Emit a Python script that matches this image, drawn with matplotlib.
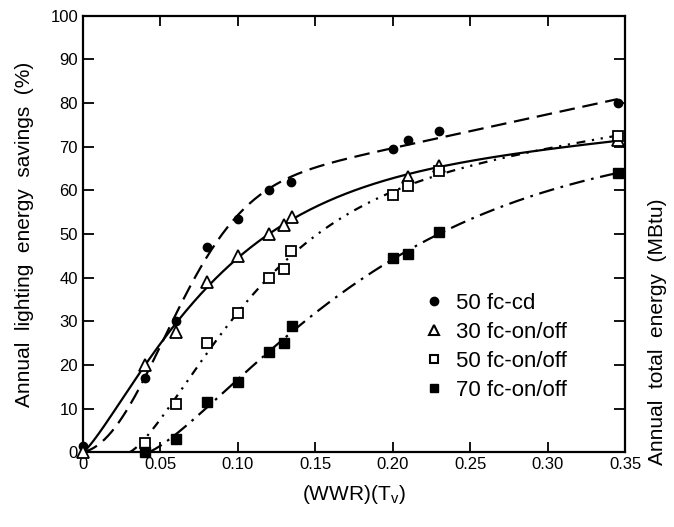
import numpy as np
import matplotlib.pyplot as plt
from matplotlib.lines import Line2D

plt.rcParams['font.family'] = ['Liberation Sans', 'DejaVu Sans']

# data: (WWR)(Tv) vs annual lighting energy savings (%)
x_cd = [0, 0.04, 0.06, 0.08, 0.10, 0.12, 0.134, 0.20, 0.21, 0.23, 0.345]
y_cd = [1.5, 17, 30, 47, 53.5, 60, 62, 69.5, 71.5, 73.5, 80]

x_30 = [0, 0.04, 0.06, 0.08, 0.10, 0.12, 0.13, 0.135, 0.21, 0.23, 0.345]
y_30 = [0, 20, 27.5, 39, 45, 50, 52, 54, 63, 65.5, 71.5]

x_50 = [0.04, 0.06, 0.08, 0.10, 0.12, 0.13, 0.134, 0.20, 0.21, 0.23, 0.345]
y_50 = [2, 11, 25, 32, 40, 42, 46, 59, 61, 64.5, 72.5]

x_70 = [0.04, 0.06, 0.08, 0.10, 0.12, 0.13, 0.135, 0.20, 0.21, 0.23, 0.345]
y_70 = [0, 3, 11.5, 16, 23, 25, 29, 44.5, 45.5, 50.5, 64]

labels = ['50 fc-cd', '30 fc-on/off', '50 fc-on/off', '70 fc-on/off']
xticks = [0, 0.05, 0.10, 0.15, 0.20, 0.25, 0.30, 0.35]
xticklabels = ['0', '0.05', '0.10', '0.15', '0.20', '0.25', '0.30', '0.35']
yticks = list(range(0, 101, 10))


def fit_curve(x, y, x0s, p_max=3.0):
    # least-squares smooth curve: y = A*(1-exp(-((x-x0)/s)^p)) + c*(x-x0)
    x = np.asarray(x, float)
    y = np.asarray(y, float)
    best = None
    for x0 in x0s:
        d = np.clip(x - x0, 0, None)
        for p in np.linspace(0.8, p_max, 45):
            for s in np.linspace(0.02, 0.3, 71):
                B = np.column_stack([1 - np.exp(-(d / s) ** p), d])
                coef, *_ = np.linalg.lstsq(B, y, rcond=None)
                if coef[1] < 0:
                    continue
                err = ((B @ coef - y) ** 2).sum()
                if best is None or err < best[0]:
                    best = (err, x0, p, s, coef)
    _, x0, p, s, coef = best
    xs = np.linspace(x0, max(x), 300)
    d = xs - x0
    ys = coef[0] * (1 - np.exp(-(d / s) ** p)) + coef[1] * d
    return xs, ys


fig = plt.figure(figsize=(6.74, 5.27), dpi=100)
ax = fig.add_axes([0.123, 0.142, 0.805, 0.828])

series = [
    (x_cd, y_cd, dict(marker='o', mfc='black', mec='black', ms=6), (0, (7, 3.5)), [0.0], 3.0),
    (x_30, y_30, dict(marker='^', mfc='white', mec='black', ms=8, mew=1.3), '-', [0.0], 1.25),
    (x_50, y_50, dict(marker='s', mfc='white', mec='black', ms=6.5, mew=1.3), (0, (4, 3, 1, 3, 1, 3)),
     np.linspace(0.018, 0.03, 7), 3.0),
    (x_70, y_70, dict(marker='s', mfc='black', mec='black', ms=6.5), (0, (7, 3, 1.2, 3)),
     np.linspace(0.034, 0.042, 5), 3.0),
]

for x, y, mk, ls, x0s, pm in series:
    xs, ys = fit_curve(x, y, x0s, pm)
    ax.plot(xs, ys, color='black', lw=1.6, linestyle=ls, zorder=2)
    ax.plot(x, y, linestyle='none', zorder=3, clip_on=False, **mk)

ax.set_xlim(0, 0.35)
ax.set_ylim(0, 100)
ax.set_xticks(xticks)
ax.set_xticklabels(xticklabels)
ax.set_yticks(yticks)
ax.tick_params(direction='in', length=7, width=1.3, labelsize=12, top=True, right=True,
               labelright=False, labeltop=False)
ax.tick_params(axis='y', which='major', right=True, length=8)
for s in ax.spines.values():
    s.set_linewidth(1.6)

ax.set_ylabel('Annual  lighting  energy  savings  (%)', fontsize=15, labelpad=12)
ax.set_xlabel('(WWR)(T$_\\mathregular{v}$)', fontsize=15, labelpad=8)
fig.text(0.975, 0.37, 'Annual  total  energy  (MBtu)', rotation=90, fontsize=15,
         ha='center', va='center')

handles = [
    Line2D([], [], linestyle='none', marker='o', mfc='black', mec='black', ms=6),
    Line2D([], [], linestyle='none', marker='^', mfc='white', mec='black', ms=7, mew=1.5),
    Line2D([], [], linestyle='none', marker='s', mfc='white', mec='black', ms=6, mew=1.5),
    Line2D([], [], linestyle='none', marker='s', mfc='black', mec='black', ms=6),
]
ax.legend(handles, labels, loc='upper left', bbox_to_anchor=(0.593, 0.41), frameon=False,
          fontsize=16, handlelength=0.8, handletextpad=0.6, labelspacing=0.35)

plt.savefig('out.png', dpi=100)
